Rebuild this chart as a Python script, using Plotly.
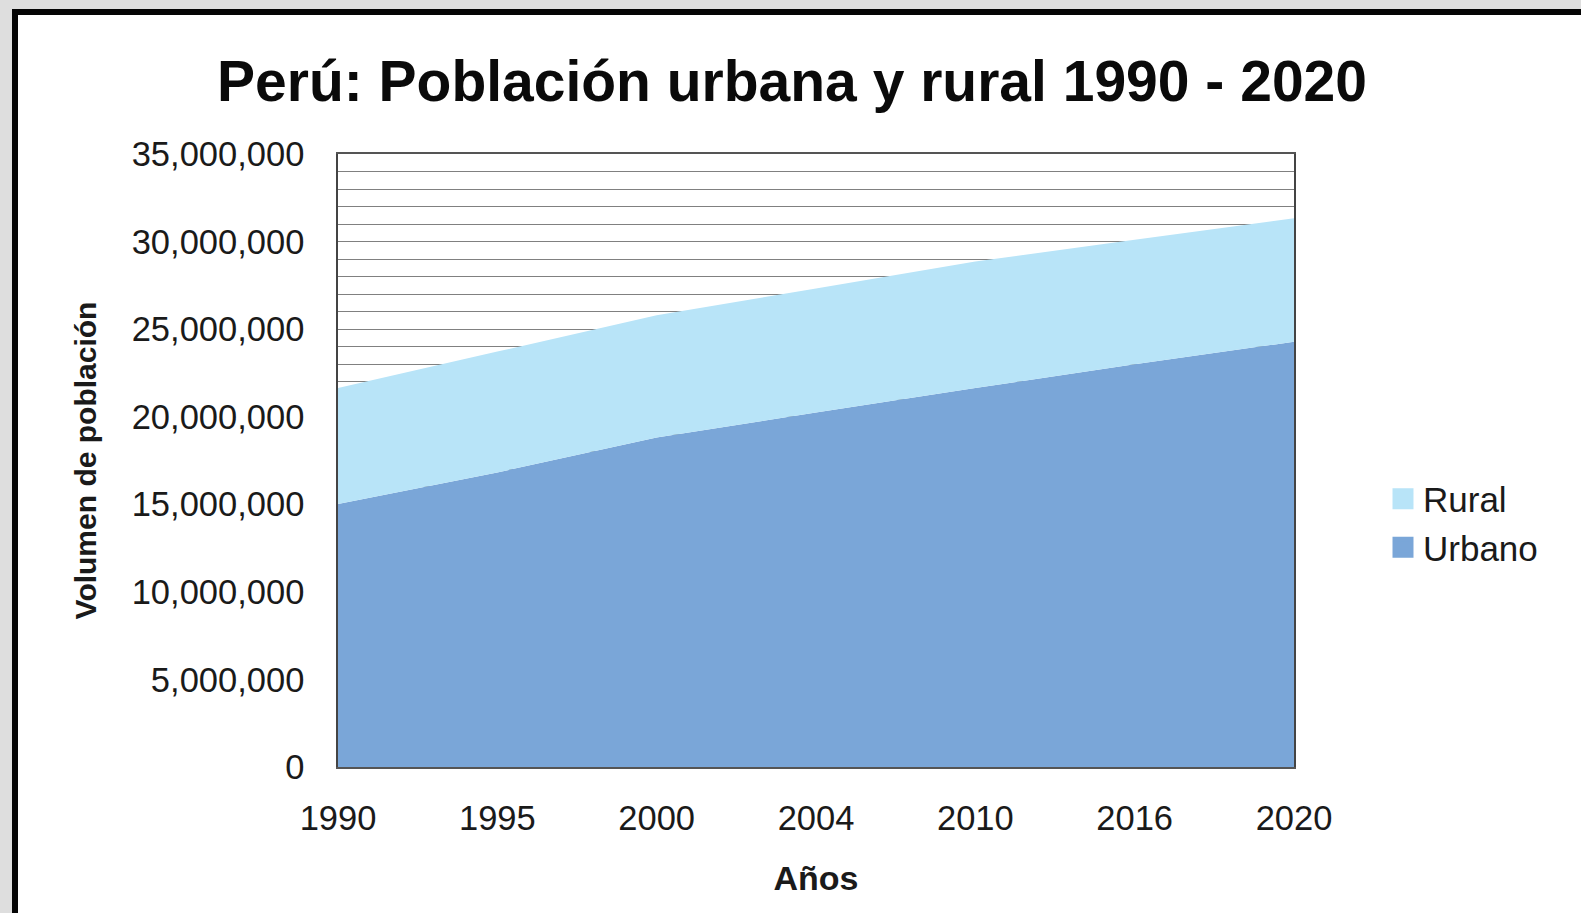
import plotly.graph_objects as go

years = ["1990", "1995", "2000", "2004", "2010", "2016", "2020"]
urbano = [15_020_000, 16_820_000, 18_810_000, 20_240_000, 21_640_000, 22_990_000, 24_280_000]
rural = [6_620_000, 6_900_000, 6_980_000, 7_080_000, 7_220_000, 7_120_000, 7_050_000]

C_URB = "rgb(122,166,216)"
C_RUR = "rgb(184,228,248)"

W, H = 1581, 913
L, R, T, B = 338, 287, 154, 146
PW, PH = W - L - R, H - T - B


def px_x(px):
    return (px - L) / PW


def px_y(py):
    return (H - B - py) / PH


fig = go.Figure()
fig.add_trace(go.Scatter(x=years, y=urbano, stackgroup="one", mode="none",
                         fillcolor=C_URB, name="Urbano", showlegend=False))
fig.add_trace(go.Scatter(x=years, y=rural, stackgroup="one", mode="none",
                         fillcolor=C_RUR, name="Rural", showlegend=False))
# legend entries (square swatches)
fig.add_trace(go.Scatter(x=[None], y=[None], mode="markers", name="Urbano", legendgroup="u",
                         marker=dict(symbol="square", size=16, color=C_URB,
                                     line=dict(color=C_URB, width=5))))
fig.add_trace(go.Scatter(x=[None], y=[None], mode="markers", name="Rural", legendgroup="r",
                         marker=dict(symbol="square", size=16, color=C_RUR,
                                     line=dict(color=C_RUR, width=5))))

fig.update_layout(
    width=W, height=H,
    margin=dict(l=L, r=R, t=T, b=B, autoexpand=False),
    paper_bgcolor="#dedede",
    plot_bgcolor="white",
    font=dict(family="Liberation Sans, Arial, sans-serif", color="#1a1a1a"),
    title=dict(text="<b>Perú: Población urbana y rural 1990 - 2020</b>",
               x=792 / W, xanchor="center", xref="container",
               y=1 - 81 / H, yanchor="middle", yref="container",
               font=dict(size=57, color="#0a0a0a")),
    showlegend=True,
    legend=dict(x=px_x(1383), xanchor="left", y=px_y(523), yanchor="middle",
                traceorder="reversed", tracegroupgap=11,
                font=dict(size=35, color="#1a1a1a"), bgcolor="rgba(0,0,0,0)"),
    shapes=[dict(type="rect", xref="paper", yref="paper", layer="below",
                 x0=px_x(15), x1=px_x(1700), y0=px_y(1000), y1=px_y(12),
                 fillcolor="white", line=dict(color="#050505", width=6))],
)

fig.update_xaxes(
    type="category", range=[0, 6],
    showgrid=False, showline=True, mirror=True, linecolor="#555", linewidth=1.5,
    ticks="", ticklabelstandoff=20, tickfont=dict(size=34.5, color="#1a1a1a"),
    title=dict(text="<b>Años</b>", font=dict(size=34, color="#1a1a1a"), standoff=30),
)
fig.update_yaxes(
    range=[0, 35_000_000], dtick=5_000_000, tickformat=",",
    showgrid=True, gridcolor="#808080", gridwidth=1,
    minor=dict(dtick=1_000_000, showgrid=True, gridcolor="#808080", gridwidth=1),
    showline=True, mirror=True, linecolor="#444", linewidth=1.5,
    ticks="", ticklabelstandoff=25, tickfont=dict(size=34.5, color="#1a1a1a"),
    zeroline=False,
    title=dict(text="<b>Volumen de población</b>", font=dict(size=30, color="#1a1a1a"), standoff=26),
)

fig.write_html("out.html", config={"displayModeBar": False},
               post_script="document.body.style.margin='0';")
